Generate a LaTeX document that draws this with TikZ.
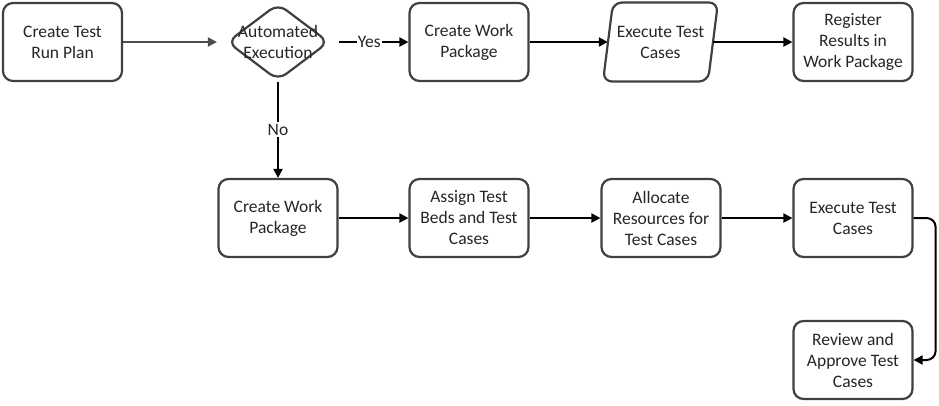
\documentclass[tikz,border=0pt]{standalone}
\usepackage{fontspec}
\setmainfont{Carlito}
\usetikzlibrary{shapes.geometric,arrows.meta,calc}
\begin{document}
\begin{tikzpicture}[x=1pt,y=-1pt,
  box/.style={draw=black!75,line width=2.2pt,rounded corners=10pt,fill=white,
    minimum width=119pt,minimum height=78pt,align=center,inner sep=2pt,
    font=\fontsize{17.5pt}{21pt}\selectfont,text=black!85},
  lbl/.style={align=center,font=\fontsize{17.5pt}{21pt}\selectfont,text=black!85},
  arr/.style={line width=2pt,draw=black,-{Triangle[length=9pt,width=9pt]}},
  garr/.style={line width=2pt,draw=black!70,-{Triangle[length=9pt,width=9pt]}}]
\useasboundingbox (0,0) rectangle (939,405);
% top row
\node[box] (plan) at (62.5,42) {Create Test\\Run Plan};
\node[diamond,draw=black!75,line width=2.2pt,rounded corners=10pt,fill=white,
  minimum width=102pt,minimum height=77pt,inner sep=0pt] (dec) at (278,42) {};
\node[lbl] (dect) at (dec.center) {Automated\\Execution};
\node[box] (wp1) at (469,42) {Create Work\\Package};
\node[inner sep=0pt,minimum width=105pt,minimum height=79pt] (ex1) at (660.5,42) {};
\draw[draw=black!75,line width=2.2pt,rounded corners=9pt,fill=white]
  (603,81.5) -- (613,2.5) -- (718,2.5) -- (708,81.5) -- cycle;
\node[lbl] (ex1t) at (ex1.center) {Execute Test\\Cases};
\node[box] (reg) at (853,42) {Register\\Results in\\Work Package};
% bottom row
\node[box] (wp2) at (278,218) {Create Work\\Package};
\node[box] (assign) at (469,218) {Assign Test\\Beds and Test\\Cases};
\node[box] (alloc) at (661,218) {Allocate\\Resources for\\Test Cases};
\node[box] (ex2) at (853,218) {Execute Test\\Cases};
\node[box] (rev) at (853,360) {Review and\\Approve Test\\Cases};
% connectors
\draw[garr,shorten >=9pt] (plan.east) -- (dec.west);
\draw[arr,shorten <=9pt] (dec.east) -- node[fill=white,inner sep=1pt,lbl]{Yes} (wp1.west);
\draw[arr] (wp1.east) -- (ex1.west);
\draw[arr] (ex1.east) -- (reg.west);
\draw[arr] (dec.south) -- node[fill=white,inner sep=2pt,lbl]{No} (wp2.north);
\draw[arr] (wp2.east) -- (assign.west);
\draw[arr] (assign.east) -- (alloc.west);
\draw[arr] (alloc.east) -- (ex2.west);
\draw[arr,rounded corners=9pt] (ex2.east) -- ++(22,0) |- (rev.east);
\end{tikzpicture}
\end{document}
